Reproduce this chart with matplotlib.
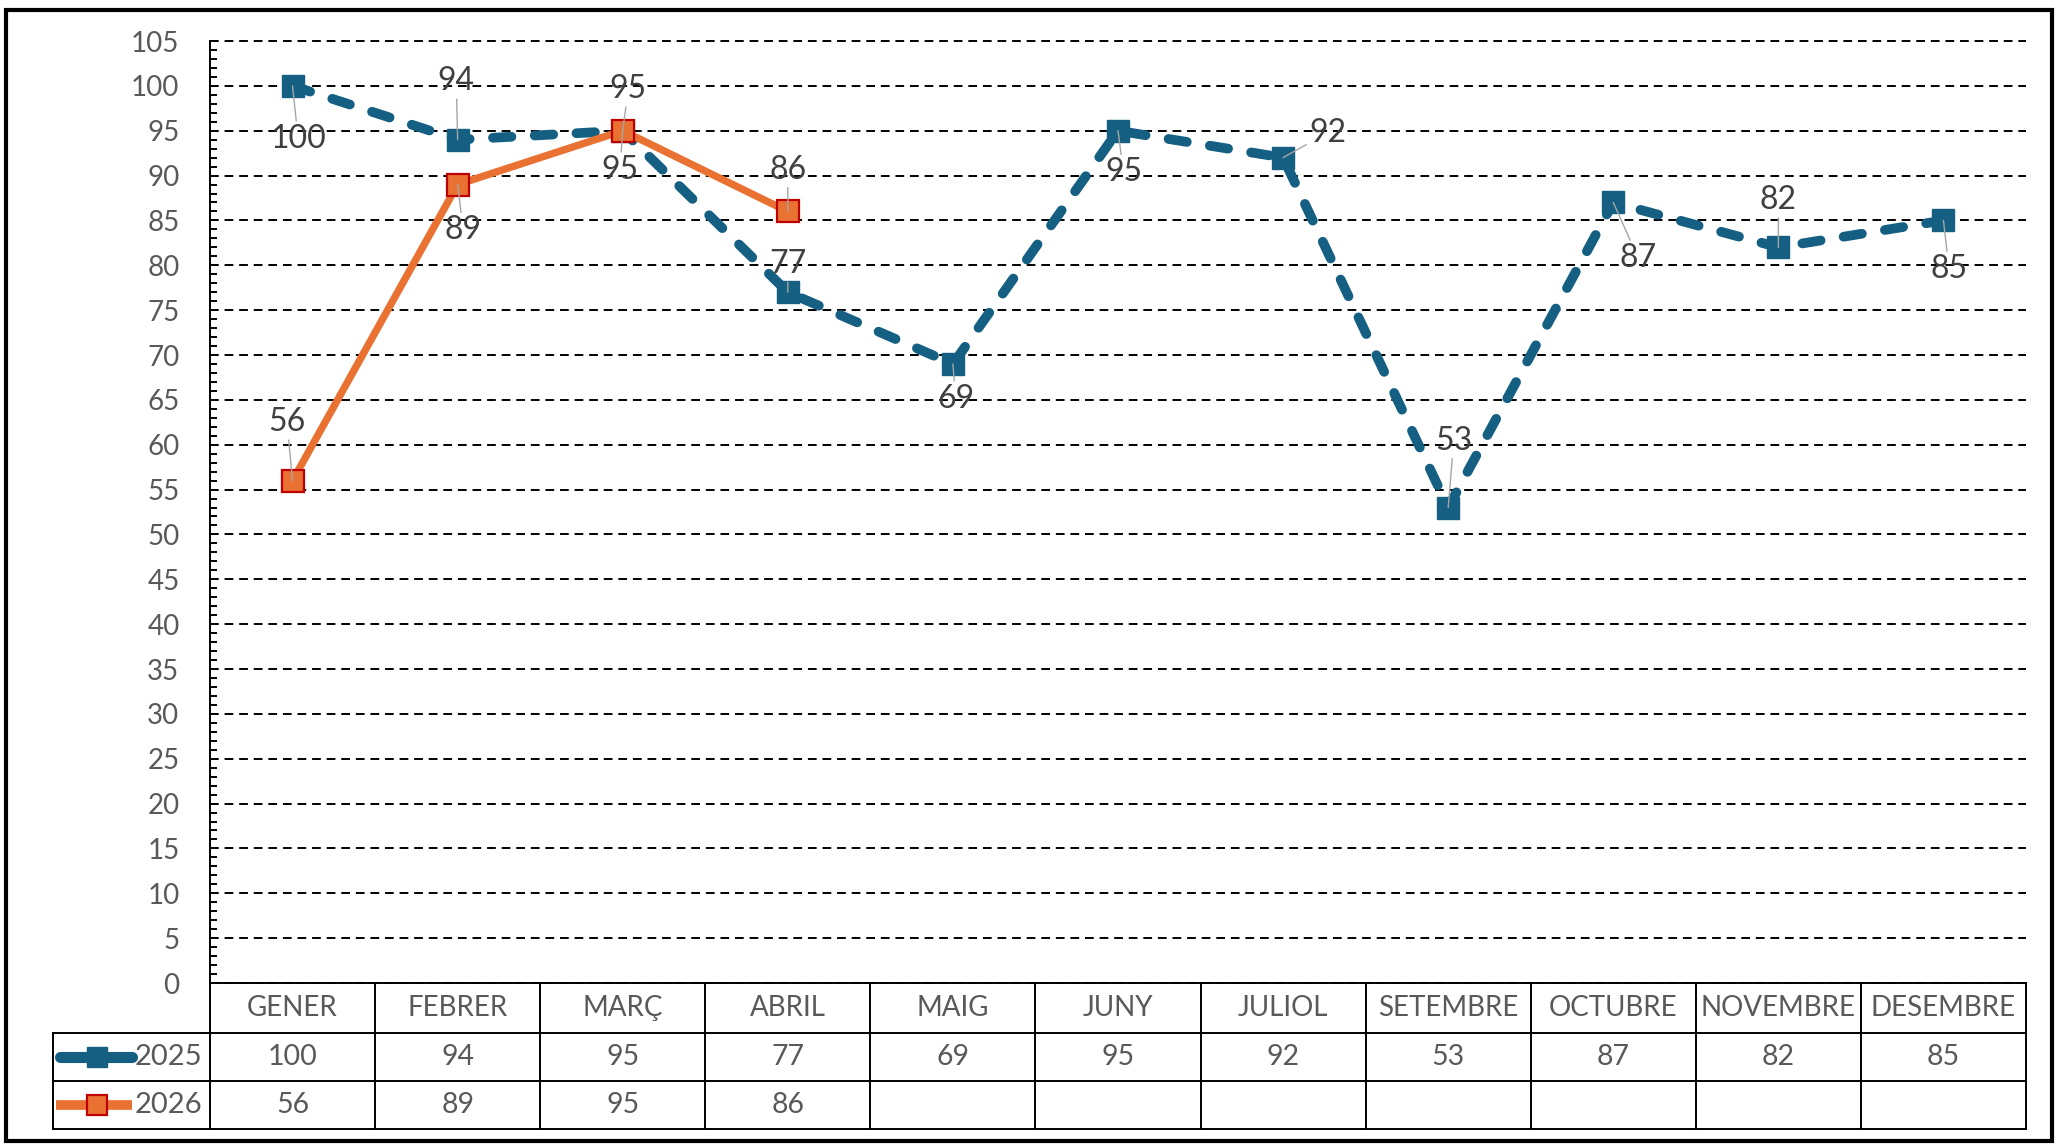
import matplotlib
matplotlib.use('Agg')
import matplotlib.pyplot as plt
from matplotlib import transforms
from matplotlib.patches import Rectangle
from matplotlib.ticker import MultipleLocator
import numpy as np

months = ["GENER", "FEBRER", "MARÇ", "ABRIL", "MAIG", "JUNY", "JULIOL",
          "SETEMBRE", "OCTUBRE", "NOVEMBRE", "DESEMBRE"]
values_2025 = [100, 94, 95, 77, 69, 95, 92, 53, 87, 82, 85]
values_2026 = [56, 89, 95, 86]
series_names = ["2025", "2026"]
y_ticks = list(range(0, 106, 5))

# data label offsets (points) - styling only
off_2025 = [(4, -38), (-1, 42), (-2, -28), (0, 20), (2, -25), (4, -30),
            (32, 18), (4, 48), (18, -40), (0, 34), (4, -35)]
off_2026 = [(-4, 42), (4, -33), (4, 30), (0, 30)]

plt.rcParams['font.family'] = ['Lato', 'DejaVu Sans']

C1 = '#156082'
C2 = '#E97132'
EDGE2 = '#C00000'
TXT = '#595959'
LBL = '#404040'

W, H = 2067, 1144
fig = plt.figure(figsize=(W / 100, H / 100), dpi=100)
L, R, T, B = 210, 2026, 41, 983
ax = fig.add_axes([L / W, 1 - B / H, (R - L) / W, (B - T) / H])

x = np.arange(len(months))
x26 = x[:len(values_2026)]

ax.plot(x, values_2025, color=C1, lw=7, linestyle=(0, (1.9, 2.4)),
        dash_capstyle='round', marker='s', ms=15.5, mfc=C1, mec=C1, zorder=3)
ax.plot(x26, values_2026, color=C2, lw=5.3, marker='s', ms=15.5, mfc=C2,
        mec=EDGE2, mew=1.6, zorder=4)

def labels(xs, vals, offs):
    for xi, v, o in zip(xs, vals, offs):
        ax.annotate(str(v), xy=(xi, v), xytext=o, textcoords='offset points',
                    ha='center', va='center', fontsize=23, color=LBL, zorder=6,
                    arrowprops=dict(arrowstyle='-', color='#A6A6A6', lw=1.0,
                                    shrinkA=0, shrinkB=0))

labels(x, values_2025, off_2025)
labels(x26, values_2026, off_2026)

ax.set_xlim(-0.5, len(months) - 0.5)
ax.set_ylim(0, 105)
ax.set_xticks([])
ax.set_yticks(y_ticks)
ax.yaxis.set_minor_locator(MultipleLocator(1))
ax.yaxis.grid(True, which='major', color='black', lw=1.4, linestyle=(0, (4.5, 3)))
ax.set_axisbelow(True)
for tk in ax.yaxis.get_major_ticks():
    tk.gridline.set_clip_on(False)
ax.tick_params(axis='y', which='both', direction='in', length=5, width=1.4,
               color='black')
ax.tick_params(axis='y', which='major', labelsize=20, labelcolor=TXT, pad=22)
for s in ['top', 'right']:
    ax.spines[s].set_visible(False)
for s in ['left', 'bottom']:
    ax.spines[s].set_color('black')
    ax.spines[s].set_linewidth(1.4)

# data table below the plot
tr = transforms.blended_transform_factory(ax.transData, ax.transAxes)
row_y = [0, -0.0531, -0.104, -0.155]
leg_left = -1.451
xr = len(months) - 0.5
kw = dict(transform=tr, clip_on=False, color='black', lw=1.4, zorder=5)
for yy in row_y[1:]:
    ax.plot([leg_left, xr], [yy, yy], **kw)
for k in range(len(months) + 1):
    ax.plot([k - 0.5, k - 0.5], [0, row_y[3]], **kw)
ax.plot([leg_left, leg_left], [row_y[1], row_y[3]], **kw)

hy = (row_y[0] + row_y[1]) / 2
y25 = (row_y[1] + row_y[2]) / 2
y26 = (row_y[2] + row_y[3]) / 2
for i, m in enumerate(months):
    ax.text(i, hy, m, transform=tr, ha='center', va='center', fontsize=20,
            color=TXT, clip_on=False)
for i, v in enumerate(values_2025):
    ax.text(i, y25, str(v), transform=tr, ha='center', va='center',
            fontsize=20.5, color=TXT, clip_on=False)
for i, v in enumerate(values_2026):
    ax.text(i, y26, str(v), transform=tr, ha='center', va='center',
            fontsize=20.5, color=TXT, clip_on=False)

# legend keys inside table
lx0, lx1, lxm, ltx = -1.41, -0.972, -1.184, -0.548
ax.plot([lx0, lx1], [y25, y25], transform=tr, clip_on=False, color=C1, lw=8,
        solid_capstyle='round', zorder=5)
ax.plot([lxm], [y25], transform=tr, clip_on=False, marker='s', ms=15,
        mfc=C1, mec=C1, zorder=6)
ax.plot([lx0 - 0.02, lx1], [y26, y26], transform=tr, clip_on=False, color=C2,
        lw=7, solid_capstyle='butt', zorder=5)
ax.plot([lxm], [y26], transform=tr, clip_on=False, marker='s', ms=15,
        mfc=C2, mec=EDGE2, mew=1.6, zorder=6)
ax.text(ltx, y25, series_names[0], transform=tr, ha='right', va='center',
        fontsize=21, color=TXT, clip_on=False)
ax.text(ltx, y26, series_names[1], transform=tr, ha='right', va='center',
        fontsize=21, color=TXT, clip_on=False)

fig.patches.append(Rectangle((6 / W, 1 - 1141 / H), 2046 / W, 1131 / H,
                             transform=fig.transFigure, fill=False, lw=3,
                             ec='black'))

fig.savefig('out.png', dpi=100)
